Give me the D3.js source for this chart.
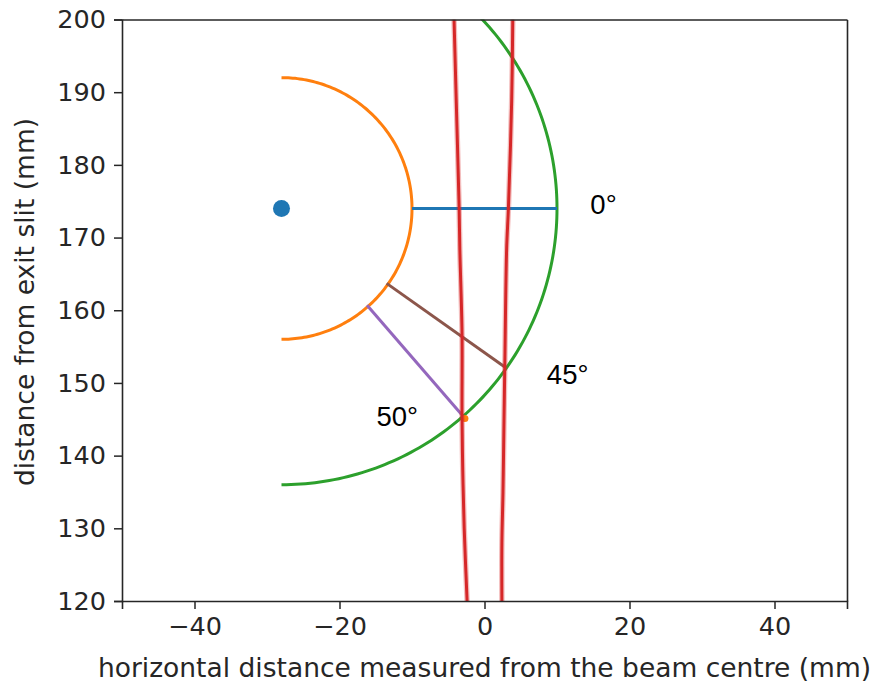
<!DOCTYPE html>
<html>
<head>
<meta charset="utf-8">
<script src="https://cdn.jsdelivr.net/npm/d3@7"></script>
<style>
  html, body { margin: 0; padding: 0; background: #fff; }
  svg { display: block; }
  .tick text { font-family: "DejaVu Sans", sans-serif; font-size: 25.5px; fill: #262626; }
  .tick line, .domain { stroke: #262626; }
</style>
</head>
<body>
<div id="chart"></div>
<script>
// Geometry of the setup (all values in mm)
const xDomain = [-50, 50];
const yDomain = [120, 200];
const xTicks = [-40, -20, 0, 20, 40];
const yTicks = [120, 130, 140, 150, 160, 170, 180, 190, 200];

// Sample position
const centre = [-28, 174];

// Inner (orange) and outer (green) detector radii
const innerRadius = 18;
const outerRadius = 38;

// Rays at the labelled angles: [x0, y0, x1, y1]
const ray0 = [-10, 174, 10, 174];
const ray45 = [-13.5, 163.7, 2.8, 152.2];
const ray50 = [-16.2, 160.7, -3.1, 145.6];

// Marker where the 50° ray meets the outer arc
const hitPoint = [-2.7, 145.1];

// Beam edges traced through the detector region
const beamLeft = [[-4.2, 200], [-3.9, 188.9], [-3.5, 174.1], [-3.4, 168.3], [-3.1, 156.9], [-3.1, 145.6], [-3.0, 138.0], [-2.8, 130], [-2.4, 120]];
const beamRight = [[3.9, 200], [3.75, 188.9], [3.3, 174.1], [3.05, 168.3], [2.8, 152.3], [2.7, 145.6], [2.55, 135], [2.4, 128], [2.4, 120]];

// Angle labels
const labels = [
  { text: "0°", x: 14.6, y: 173.3 },
  { text: "45°", x: 8.6, y: 149.8 },
  { text: "50°", x: -14.9, y: 144.1 }
];

const W = 873, H = 686;
const margin = { left: 122, right: 26, top: 19.5, bottom: 85 };

const svg = d3.select("#chart").append("svg")
  .attr("width", W).attr("height", H);

const x = d3.scaleLinear().domain(xDomain).range([margin.left, W - margin.right]);
const y = d3.scaleLinear().domain(yDomain).range([H - margin.bottom, margin.top]);

svg.append("defs").append("clipPath").attr("id", "plotClip")
  .append("rect")
  .attr("x", x(xDomain[0])).attr("y", y(yDomain[1]))
  .attr("width", x(xDomain[1]) - x(xDomain[0]))
  .attr("height", y(yDomain[0]) - y(yDomain[1]));

const plot = svg.append("g").attr("clip-path", "url(#plotClip)");

// Half circle on the downstream side of the sample, from top to bottom
function halfCircle(r) {
  return d3.range(90, -90.5, -1).map(a => {
    const t = a * Math.PI / 180;
    return [centre[0] + r * Math.cos(t), centre[1] + r * Math.sin(t)];
  });
}

const line = d3.line().x(d => x(d[0])).y(d => y(d[1]));

// Sample point
plot.append("circle")
  .attr("cx", x(centre[0])).attr("cy", y(centre[1]))
  .attr("r", 8.5).attr("fill", "#1f77b4");

// Inner arc
plot.append("path").attr("d", line(halfCircle(innerRadius)))
  .attr("fill", "none").attr("stroke", "#ff7f0e").attr("stroke-width", 3);

// Outer arc
plot.append("path").attr("d", line(halfCircle(outerRadius)))
  .attr("fill", "none").attr("stroke", "#2ca02c").attr("stroke-width", 3);

// Rays
const rays = [
  { seg: ray0, color: "#1f77b4" },
  { seg: ray45, color: "#8c564b" },
  { seg: ray50, color: "#9467bd" }
];
plot.selectAll("line.ray").data(rays).join("line")
  .attr("class", "ray")
  .attr("x1", d => x(d.seg[0])).attr("y1", d => y(d.seg[1]))
  .attr("x2", d => x(d.seg[2])).attr("y2", d => y(d.seg[3]))
  .attr("stroke", d => d.color).attr("stroke-width", 3);

plot.append("circle")
  .attr("cx", x(hitPoint[0])).attr("cy", y(hitPoint[1]))
  .attr("r", 3.5).attr("fill", "#ff7f0e");

// Beam edges: soft halo under a solid core
const beamLine = d3.line().x(d => x(d[0])).y(d => y(d[1])).curve(d3.curveCatmullRom);
[beamLeft, beamRight].forEach(b => {
  plot.append("path").attr("d", beamLine(b))
    .attr("fill", "none").attr("stroke", "#d62728").attr("stroke-opacity", 0.3).attr("stroke-width", 5.5);
  plot.append("path").attr("d", beamLine(b))
    .attr("fill", "none").attr("stroke", "#d62728").attr("stroke-width", 3);
});

// Angle labels
svg.selectAll("text.lbl").data(labels).join("text")
  .attr("class", "lbl")
  .attr("x", d => x(d.x)).attr("y", d => y(d.y))
  .attr("font-family", "'Liberation Sans', Arial, sans-serif")
  .attr("font-size", 27.5).attr("fill", "#000")
  .text(d => d.text);

// Axes
svg.append("g")
  .attr("transform", `translate(0,${y(yDomain[0])})`)
  .call(d3.axisBottom(x).tickValues(xTicks).tickSize(8).tickPadding(8)
    .tickFormat(d => d < 0 ? "\u2212" + Math.abs(d) : d));
svg.append("g")
  .attr("transform", `translate(${x(xDomain[0])},0)`)
  .call(d3.axisLeft(y).tickValues(yTicks).tickSize(8).tickPadding(8));
svg.append("g")
  .attr("transform", `translate(0,${y(yDomain[1])})`)
  .call(d3.axisTop(x).tickValues([]).tickSizeOuter(0));
svg.append("g")
  .attr("transform", `translate(${x(xDomain[1])},0)`)
  .call(d3.axisRight(y).tickValues([]).tickSizeOuter(0));
svg.selectAll(".domain").attr("stroke-width", 1.6);
svg.selectAll(".tick line").attr("stroke-width", 1.5);

// Axis titles
svg.append("text")
  .attr("x", x(0)).attr("y", 677)
  .attr("text-anchor", "middle")
  .attr("font-family", "'DejaVu Sans', sans-serif").attr("font-size", 26.5)
  .attr("fill", "#262626")
  .text("horizontal distance measured from the beam centre (mm)");
svg.append("text")
  .attr("transform", `translate(34,302) rotate(-90)`)
  .attr("text-anchor", "middle")
  .attr("font-family", "'DejaVu Sans', sans-serif").attr("font-size", 26.5)
  .attr("fill", "#262626")
  .text("distance from exit slit (mm)");
</script>
</body>
</html>
